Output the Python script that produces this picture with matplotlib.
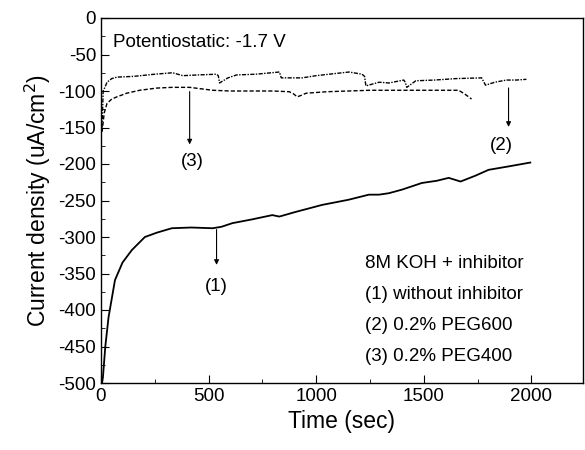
import matplotlib.pyplot as plt
from matplotlib.ticker import MultipleLocator

plt.rcParams["font.family"] = ["Liberation Sans", "DejaVu Sans"]
plt.rcParams["axes.unicode_minus"] = False

# (1) without inhibitor
t1 = [5, 9, 20, 35, 65, 100, 143, 204, 260, 329, 420, 519, 560, 611, 700, 796, 829,
      900, 1028, 1150, 1245, 1292, 1338, 1400, 1491, 1560, 1616, 1671, 1740, 1801, 1900, 1995]
j1 = [-500, -492, -450, -410, -359, -335, -318, -300, -294, -288, -287, -288, -286, -281,
      -276, -270, -272, -266, -256, -249, -242, -242, -240, -235, -226, -223, -219, -224,
      -216, -208, -203, -198]

# (2) 0.2% PEG600
t2 = [5, 10, 18, 28, 50, 74, 150, 250, 333, 380, 450, 537, 545, 551, 590, 630, 720, 829,
      838, 935, 1000, 1060, 1153, 1213, 1225, 1231, 1292, 1338, 1407, 1414, 1421, 1463,
      1550, 1650, 1769, 1787, 1830, 1884, 1930, 1977]
j2 = [-150, -100, -95, -88, -83, -81, -80, -77, -75, -79, -78, -77, -79, -89, -82, -78, -77,
      -74, -82, -82, -79, -77, -74, -77, -80, -93, -88, -89, -85, -88, -95, -86, -85, -83,
      -82, -92, -88, -85, -85, -84]

# (3) 0.2% PEG400
t3 = [5, 15, 28, 50, 74, 120, 180, 259, 330, 412, 519, 600, 700, 800, 875, 895, 912, 930,
      954, 1050, 1150, 1250, 1338, 1450, 1550, 1662, 1690, 1722]
j3 = [-156, -130, -117, -111, -108, -103, -99, -96, -95, -95, -99, -100, -100, -100, -101,
      -104, -108, -106, -103, -101, -100, -99, -99, -99, -99, -99, -104, -111]

fig = plt.figure(figsize=(5.85, 4.5), dpi=100)
ax = fig.add_axes([101 / 585, 1 - 383 / 450, 482 / 585, 365 / 450])

ax.plot(t1, j1, color="black", lw=1.3)
ax.plot(t2, j2, color="black", lw=1.0, ls=(0, (3, 1, 1, 1)))
ax.plot(t3, j3, color="black", lw=1.0, ls=(0, (3, 1.5)))

ax.set_xlim(0, 2240)
ax.set_ylim(-500, 0)
ax.xaxis.set_major_locator(MultipleLocator(500))
ax.xaxis.set_minor_locator(MultipleLocator(250))
ax.yaxis.set_major_locator(MultipleLocator(50))
ax.yaxis.set_minor_locator(MultipleLocator(25))
ax.tick_params(which="both", direction="in", labelsize=13.5, top=False, right=False)
ax.tick_params(which="major", length=6)
ax.tick_params(which="minor", length=3)
for s in ax.spines.values():
    s.set_linewidth(1.0)

ax.set_xlabel("Time (sec)", fontsize=16.5)
ax.set_ylabel("Current density (uA/cm$^2$)", fontsize=16.5, labelpad=4)

arrow = dict(arrowstyle="-|>", color="black", lw=0.8, mutation_scale=7)
ax.annotate("", xy=(412, -177), xytext=(412, -97), arrowprops=arrow)
ax.text(425, -197, "(3)", fontsize=13.5, ha="center", va="center")
ax.annotate("", xy=(1894, -153), xytext=(1894, -92), arrowprops=arrow)
ax.text(1861, -174, "(2)", fontsize=13.5, ha="center", va="center")
ax.annotate("", xy=(537, -342), xytext=(537, -286), arrowprops=arrow)
ax.text(537, -368, "(1)", fontsize=13.5, ha="center", va="center")

ax.text(55, -34, "Potentiostatic: -1.7 V", fontsize=13.5, ha="left", va="center")
legend_lines = ["8M KOH + inhibitor", "(1) without inhibitor", "(2) 0.2% PEG600", "(3) 0.2% PEG400"]
for i, s in enumerate(legend_lines):
    ax.text(1225, -336 - i * 42.5, s, fontsize=13.5, ha="left", va="center")

fig.savefig("out.png", dpi=100)
